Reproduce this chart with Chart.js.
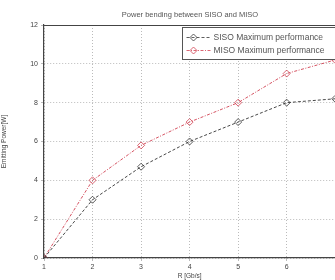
<!DOCTYPE html>
<html><head><meta charset="utf-8">
<script src="https://cdn.jsdelivr.net/npm/chart.js@4/dist/chart.umd.min.js"></script>
<style>html,body{margin:0;padding:0;overflow:hidden;background:#fff}#wrap{width:340px;height:280px;position:relative}</style>
</head><body><div id="wrap"><canvas id="c"></canvas></div>
<script>
const xValues = [1, 2, 3, 4, 5, 6, 7];
const sisoPower = [0, 3, 4.7, 6, 7, 8, 8.2];
const misoPower = [0, 4, 5.8, 7, 8, 9.5, 10.2];
const xTickLabels = ['1', '2', '3', '4', '5', '6', ''];
const yTickLabels = ['0', '2', '4', '6', '8', '10', '12'];
const seriesNames = ['SISO Maximum performance', 'MISO Maximum performance'];
const chartTitle = 'Power bending between SISO and MISO';
const xTitle = 'R [Gb/s]';
const yTitle = 'Emitting Power[W]';

const FONT = 'Liberation Sans, Arial, sans-serif';
const colors = ['#333333', '#d04050'];

const overlay = {
  id: 'overlay',
  afterDraw(chart) {
    const ctx = chart.ctx, a = chart.chartArea;
    ctx.save();
    ctx.strokeStyle = '#444'; ctx.lineWidth = 1;
    ctx.beginPath(); ctx.moveTo(a.left, a.top + 0.5); ctx.lineTo(a.right, a.top + 0.5); ctx.stroke();
    ctx.fillStyle = '#555'; ctx.font = '7.5px ' + FONT; ctx.textAlign = 'center'; ctx.textBaseline = 'middle';
    ctx.fillText(chartTitle, 190, 15);
    const bx = 182.5, by = 27.5, bw = 160, bh = 32;
    ctx.fillStyle = '#fff'; ctx.fillRect(bx, by, bw, bh);
    ctx.strokeStyle = '#555'; ctx.strokeRect(bx, by, bw, bh);
    seriesNames.forEach((n, i) => {
      const y = by + 10 + i * 13;
      ctx.strokeStyle = colors[i]; ctx.lineWidth = 0.8;
      ctx.setLineDash(i === 0 ? [3, 2] : [3, 1.5, 1, 1.5]);
      ctx.beginPath(); ctx.moveTo(bx + 4, y); ctx.lineTo(bx + 28, y); ctx.stroke();
      ctx.setLineDash([]);
      ctx.beginPath(); ctx.moveTo(bx + 11, y - 3.5); ctx.lineTo(bx + 14.5, y); ctx.lineTo(bx + 11, y + 3.5); ctx.lineTo(bx + 7.5, y); ctx.closePath(); ctx.stroke();
      ctx.fillStyle = '#555'; ctx.font = '8.5px ' + FONT; ctx.textAlign = 'left';
      ctx.fillText(n, bx + 31, y);
    });
    ctx.restore();
  }
};

new Chart(document.getElementById('c'), {
  type: 'line',
  data: {
    datasets: [
      { label: seriesNames[0], data: xValues.map((x, i) => ({x, y: sisoPower[i]})),
        borderColor: colors[0], borderWidth: 0.9, borderDash: [3, 2], pointStyle: 'rectRot',
        pointRadius: 3.5, pointBorderColor: colors[0], pointBackgroundColor: 'rgba(255,255,255,0)', pointBorderWidth: 0.8, tension: 0 },
      { label: seriesNames[1], data: xValues.map((x, i) => ({x, y: misoPower[i]})),
        borderColor: colors[1], borderWidth: 0.9, borderDash: [3, 1.5, 1, 1.5], pointStyle: 'rectRot',
        pointRadius: 3.5, pointBorderColor: colors[1], pointBackgroundColor: 'rgba(255,255,255,0)', pointBorderWidth: 0.8, tension: 0 }
    ]
  },
  options: {
    responsive: true, maintainAspectRatio: false, animation: false,
    layout: { padding: { top: 25, right: 2, left: 0, bottom: 0 } },
    plugins: { legend: { display: false }, title: { display: false }, tooltip: { enabled: false } },
    scales: {
      x: { type: 'linear', min: 1, max: 7,
        afterFit: s => { s.height = 22; },
        ticks: { stepSize: 1, color: '#444', font: { size: 7, family: FONT }, padding: 2, maxRotation: 0,
          callback: (v) => xTickLabels[xValues.indexOf(v)] ?? '' },
        grid: { color: '#aaa', lineWidth: 0.8, tickLength: 3, drawTicks: true },
        border: { display: true, color: '#444', width: 1.2, dash: [1, 2] },
        title: { display: true, text: xTitle, color: '#444', font: { size: 6.5, family: FONT }, padding: 0 } },
      y: { min: 0, max: 12,
        afterFit: s => { s.width = 44; },
        ticks: { stepSize: 2, color: '#444', font: { size: 7, family: FONT }, padding: 3,
          callback: (v) => yTickLabels[v / 2] ?? '' },
        grid: { color: '#aaa', lineWidth: 0.8, tickLength: 3 },
        border: { display: true, color: '#444', width: 1.2, dash: [1, 2] },
        title: { display: true, text: yTitle, color: '#444', font: { size: 6.5, family: FONT }, padding: 0 } }
    }
  },
  plugins: [overlay]
});
</script></body></html>
